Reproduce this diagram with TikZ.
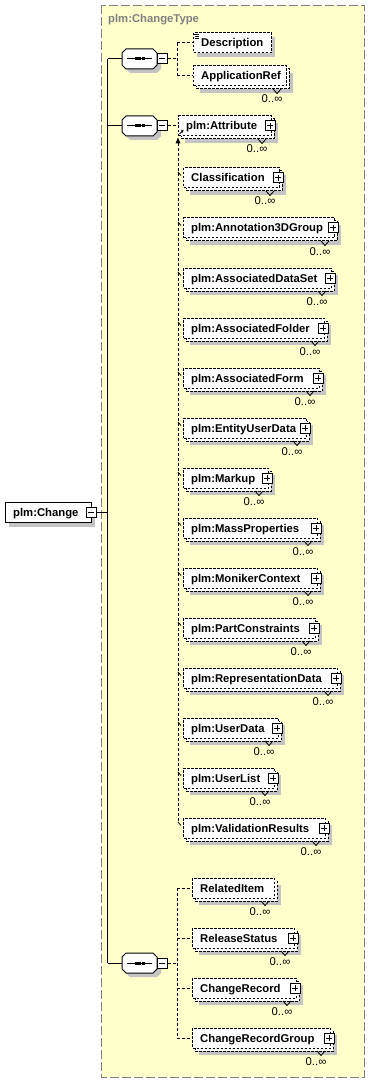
\documentclass[tikz,border=0pt]{standalone}
\usepackage{fontspec}
\setmainfont{Liberation Sans}
\definecolor{bgY}{HTML}{FFFFCC}
\definecolor{frameG}{HTML}{808080}
\definecolor{shG}{HTML}{C4C4C4}
\tikzset{
 elbox/.style={draw=black, fill=white, line width=1pt, dash pattern=on 2.5pt off 1.5pt, inner sep=0pt, minimum height=20pt, anchor=west},
 backbox/.style={draw=black, fill=white, line width=1pt, dash pattern=on 2.5pt off 1.5pt},
 solidbox/.style={draw=black, fill=white, line width=1pt, inner sep=0pt},
 conn/.style={line width=1pt, dash pattern=on 3pt off 2pt},
 trunkline/.style={line width=1pt},
 lbl/.style={font=\fontsize{11.3}{13}\selectfont\bfseries, inner sep=0pt, anchor=base west},
 occ/.style={font=\fontsize{11.3}{13}\selectfont, inner sep=0pt, anchor=base},
 pm/.style={draw=black, fill=white, line width=1pt, minimum size=10pt, inner sep=0pt},
 minussign/.style={path picture={\draw[line width=1pt] ([xshift=2pt]path picture bounding box.west) -- ([xshift=-2pt]path picture bounding box.east);}},
 plussign/.style={path picture={\draw[line width=1pt] ([xshift=2pt]path picture bounding box.west) -- ([xshift=-2pt]path picture bounding box.east) ([yshift=-2pt]path picture bounding box.north) -- ([yshift=2pt]path picture bounding box.south);}},
}
\newcommand\xelem[7]{%
 \ifnum#6=1
  \fill[shG] (#2+7,#4-3) rectangle (#3+4,#4+17);
  \draw[backbox] (#2+3,#4-7) rectangle (#3,#4+13);
  \node[elbox, minimum width={#3-3-(#2)}] (#1) at (#2,#4) {};
 \else
  \fill[shG] (#2+4,#4-6) rectangle (#3+4,#4+14);
  \node[elbox, minimum width={#3-(#2)}] (#1) at (#2,#4) {};
 \fi
 \node[lbl] (#1-t) at (#2+8,#4+4) {#5};
 \ifnum#7=1 \node[pm,plussign] (#1-p) at (#3-4,#4) {};\fi
 \ifnum#6=1
  \draw[line width=0.8pt] (#3-16,#4+13) -- (#3-12,#4+17.5) -- (#3-8,#4+13);
  \node[occ] (#1-o) at (#3-17,#4+27) {0..∞};
 \fi
}
\newcommand\seqsym[3]{%
 \begin{scope}[shift={(#2,#3)}]
  \fill[shG] (-9.5,-6) -- (17.5,-6) -- (21.5,-2) -- (21.5,10) -- (17.5,14) -- (-9.5,14) -- (-13.5,10) -- (-13.5,-2) -- cycle;
  \draw[fill=white, line width=1pt] (-13.5,-10) -- (13.5,-10) -- (17.5,-6) -- (17.5,6) -- (13.5,10) -- (-13.5,10) -- (-17.5,6) -- (-17.5,-6) -- cycle;
  \draw[line width=1pt] (-12.5,0) -- (12.5,0);
  \fill (-5,-1.5) rectangle (-2,1.5);
  \fill (-1.5,-1.5) rectangle (1.5,1.5);
  \fill (2,-1.5) rectangle (5,1.5);
 \end{scope}
 \node[inner sep=0pt, minimum width=35pt, minimum height=20pt] (#1) at (#2,#3) {};
 \node[pm,minussign] (#1m) at (#2+22.5,#3) {};
}
\begin{document}
\begin{tikzpicture}[x=1pt,y=-1pt]
\useasboundingbox (0,0) rectangle (370,1083);
% frame of the complex type
\draw[fill=bgY, draw=frameG, line width=1pt, dash pattern=on 9pt off 3pt] (101.5,5.5) rectangle (364,1077);
\node[font=\fontsize{11.3}{13}\selectfont\bfseries, text=frameG, anchor=base west, inner sep=0pt] (title) at (108,23) {plm:ChangeType};

% root element
\fill[shG] (9,507) rectangle (95,527);
\node[solidbox, minimum width=86pt, minimum height=20pt, anchor=west] (chg) at (5,512) {};
\node[lbl] (chg-t) at (13,516) {plm:Change};
\node[pm,minussign] (chgm) at (91,512) {};

% trunk
\coordinate (trM) at (107.5,512);
\coordinate (trT) at (107.5,59);
\coordinate (tr2) at (107.5,126);
\coordinate (trB) at (107.5,963);

% sequences
\seqsym{sa}{139.5}{59}
\seqsym{sb}{139.5}{126}
\seqsym{sc}{139.5}{963}

\draw[trunkline] (chgm.east) -- (trM);
\draw[trunkline] (trT) -- (trB);
\draw[trunkline] (trT) -- (sa.west);
\draw[trunkline] (tr2) -- (sb.west);
\draw[trunkline] (trB) -- (sc.west);

% elements
\xelem{desc}{193}{271}{43}{Description}{0}{0}
\xelem{appref}{193}{289}{76}{ApplicationRef}{1}{0}
\xelem{attr}{178}{274}{126}{plm:Attribute}{1}{1}
\xelem{cls}{183}{282}{178}{Classification}{1}{1}
\xelem{ann}{183}{337}{228}{plm:Annotation3DGroup}{1}{1}
\xelem{ads}{183}{334}{278}{plm:AssociatedDataSet}{1}{1}
\xelem{afo}{183}{327}{328}{plm:AssociatedFolder}{1}{1}
\xelem{afm}{183}{322}{378}{plm:AssociatedForm}{1}{1}
\xelem{eud}{183}{309}{428}{plm:EntityUserData}{1}{1}
\xelem{mkp}{183}{271}{478}{plm:Markup}{1}{1}
\xelem{mps}{183}{320}{528}{plm:MassProperties}{1}{1}
\xelem{mnc}{183}{320}{578}{plm:MonikerContext}{1}{1}
\xelem{pcs}{183}{318}{628}{plm:PartConstraints}{1}{1}
\xelem{rpd}{183}{340}{678}{plm:RepresentationData}{1}{1}
\xelem{usd}{183}{281}{728}{plm:UserData}{1}{1}
\xelem{usl}{183}{277}{778}{plm:UserList}{1}{1}
\xelem{vrs}{183}{328}{828}{plm:ValidationResults}{1}{1}
\xelem{rli}{192}{277}{888}{RelatedItem}{1}{0}
\xelem{rls}{192}{297}{938}{ReleaseStatus}{1}{1}
\xelem{chr}{192}{299}{988}{ChangeRecord}{1}{1}
\xelem{crg}{192}{333}{1038}{ChangeRecordGroup}{1}{1}

% icons
\draw[line width=0.8pt] (194,34.5) -- (199,34.5) (195,36.5) -- (199,36.5) (195,38.5) -- (199,38.5);
\draw[line width=0.9pt] (179.5,134) -- (182.5,131);
\fill (183.5,130) -- (180.6,130.6) -- (182.9,132.9) -- cycle;

% sequence 1 connectors
\coordinate (ja) at (177,59);
\coordinate (jaT) at (177,43);
\coordinate (jaB) at (177,76);
\draw[conn] (sam.east) -- (ja);
\draw[conn] (jaT) -- (jaB);
\draw[conn] (jaT) -- (desc.west);
\draw[conn] (jaB) -- (appref.west);

% sequence 2 and substitution group
\draw[conn] (sbm.east) -- (attr.west);
\coordinate (subTop) at (178,143);
\coordinate (subEnd) at (178,822);
\draw[conn] (subTop) -- (subEnd);
\fill (178,137.5) -- (175.5,143.5) -- (180.5,143.5) -- cycle;
\foreach \y in {178,228,278,328,378,428,478,528,578,628,678,728,778,828}
  \draw[line width=0.8pt] (178,\y-6) -- (181,\y-2.5);

% sequence 3 connectors
\coordinate (jc) at (177,963);
\coordinate (jcT) at (177,888);
\coordinate (jcB) at (177,1038);
\coordinate (jc2) at (177,938);
\coordinate (jc3) at (177,988);
\draw[conn] (scm.east) -- (jc);
\draw[conn] (jcT) -- (jcB);
\draw[conn] (jcT) -- (rli.west);
\draw[conn] (jc2) -- (rls.west);
\draw[conn] (jc3) -- (chr.west);
\draw[conn] (jcB) -- (crg.west);
\end{tikzpicture}
\end{document}
